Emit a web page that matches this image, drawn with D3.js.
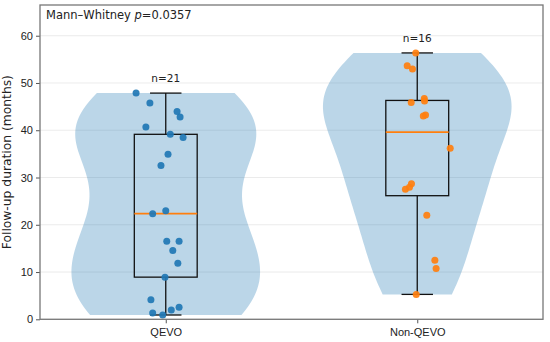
<!doctype html>
<html>
<head>
  <meta charset="utf-8" />
  <script src="https://cdn.jsdelivr.net/npm/d3@7"></script>
  <style>
  body{
    margin: 0;
    background: #fff;
    font-family: "DejaVu Sans", sans-serif;
  }
  .grid line{
    stroke: #e6e6e6;
    stroke-width: 0.8;
  }
  .axis text{
    font-size: 11px;
    fill: #222;
  }
  </style>
</head>
<body>
  <div id="chart"></div>

  <script>
  // groups and raw values
  var groups = ['QEVO', 'Non-QEVO'];
  var counts = ['n=21', 'n=16'];
  var qevoValues = [47.86, 45.75, 43.98, 42.8, 40.69, 39.14, 38.44, 34.92, 32.53, 22.97, 22.34,
                    16.5, 16.5, 14.55, 11.87, 8.92, 4.13, 2.53, 1.96, 1.33, 0.91];
  var qevoJitter = [-0.118, -0.063, 0.045, 0.057, -0.079, 0.018, 0.069, 0.009, -0.019, 0.0, -0.052,
                    0.004, 0.053, 0.028, 0.048, -0.003, -0.059, 0.053, 0.022, -0.052, -0.012];
  var nonValues = [56.36, 53.62, 52.98, 46.72, 46.17, 45.88, 43.22, 43.01, 36.18, 28.67, 27.96,
                   27.54, 21.99, 12.5, 10.75, 5.27];
  var nonJitter = [-0.006, -0.04, -0.019, 0.028, 0.029, -0.024, 0.033, 0.024, 0.131, -0.023, -0.031,
                   -0.047, 0.038, 0.07, 0.075, -0.004];
  var yTicks = [0, 10, 20, 30, 40, 50, 60];
  var pointColors = ['#1f77b4', '#ff7f0e'];
  var annotation = 'Mann\u2013Whitney ';
  var pValue = 'p=0.0357';

  var width = 550, height = 342;
  var margin = {left: 40, top: 5, right: 7, bottom: 22.7};

  var svg = d3.select('#chart').append('svg')
    .attr('width', width)
    .attr('height', height);

  var x = d3.scaleLinear().domain([0.5, 2.5]).range([margin.left, width - margin.right]);
  var y = d3.scaleLinear().domain([0, 66.5]).range([height - margin.bottom, margin.top]);

  // gridlines
  svg.append('g').attr('class', 'grid')
    .selectAll('line').data(yTicks).enter().append('line')
    .attr('x1', margin.left).attr('x2', width - margin.right)
    .attr('y1', function(d){ return y(d); }).attr('y2', function(d){ return y(d); });

  function quantile(arr, p){
    var s = arr.slice().sort(d3.ascending);
    return d3.quantile(s, p);
  }

  // gaussian kde, scott bandwidth (like matplotlib violinplot)
  function kde(values){
    var n = values.length;
    var bw = d3.deviation(values) * Math.pow(n, -0.2);
    var lo = d3.min(values), hi = d3.max(values);
    var pts = d3.range(100).map(function(i){ return lo + (hi - lo) * i / 99; });
    return pts.map(function(t){
      var s = d3.sum(values, function(v){ var z = (t - v) / bw; return Math.exp(-0.5 * z * z); });
      return [t, s / (n * bw * Math.sqrt(2 * Math.PI))];
    });
  }

  var series = [
    {name: groups[0], values: qevoValues, jitter: qevoJitter, pos: 1, color: pointColors[0], label: counts[0]},
    {name: groups[1], values: nonValues, jitter: nonJitter, pos: 2, color: pointColors[1], label: counts[1]}
  ];

  series.forEach(function(s){
    var dens = kde(s.values);
    var maxD = d3.max(dens, function(d){ return d[1]; });
    var area = d3.area()
      .curve(d3.curveLinear)
      .y(function(d){ return y(d[0]); })
      .x0(function(d){ return x(s.pos - 0.375 * d[1] / maxD); })
      .x1(function(d){ return x(s.pos + 0.375 * d[1] / maxD); });
    svg.append('path').datum(dens)
      .attr('d', area)
      .attr('fill', '#1f77b4')
      .attr('fill-opacity', 0.3)
      .attr('stroke', 'none');
  });

  series.forEach(function(s){
    var q1 = quantile(s.values, 0.25), med = quantile(s.values, 0.5), q3 = quantile(s.values, 0.75);
    var iqr = q3 - q1;
    var lowW = d3.min(s.values.filter(function(v){ return v >= q1 - 1.5 * iqr; }));
    var highW = d3.max(s.values.filter(function(v){ return v <= q3 + 1.5 * iqr; }));
    var g = svg.append('g').attr('stroke', '#111').attr('stroke-width', 1.3).attr('fill', 'none');
    g.append('rect')
      .attr('x', x(s.pos - 0.125)).attr('width', x(s.pos + 0.125) - x(s.pos - 0.125))
      .attr('y', y(q3)).attr('height', y(q1) - y(q3));
    g.append('line').attr('x1', x(s.pos)).attr('x2', x(s.pos)).attr('y1', y(q3)).attr('y2', y(highW));
    g.append('line').attr('x1', x(s.pos)).attr('x2', x(s.pos)).attr('y1', y(q1)).attr('y2', y(lowW));
    [lowW, highW].forEach(function(w){
      g.append('line').attr('x1', x(s.pos - 0.0625)).attr('x2', x(s.pos + 0.0625))
        .attr('y1', y(w)).attr('y2', y(w));
    });
    svg.append('line')
      .attr('x1', x(s.pos - 0.125)).attr('x2', x(s.pos + 0.125))
      .attr('y1', y(med)).attr('y2', y(med))
      .attr('stroke', '#ff7f0e').attr('stroke-width', 1.8);

    svg.append('g').selectAll('circle').data(s.values).enter().append('circle')
      .attr('cx', function(d, i){ return x(s.pos + s.jitter[i]); })
      .attr('cy', function(d){ return y(d); })
      .attr('r', 3.5)
      .attr('fill', s.color)
      .attr('fill-opacity', 0.92);

    svg.append('text')
      .attr('x', x(s.pos)).attr('y', y(highW) - 11)
      .attr('text-anchor', 'middle')
      .style('font-size', '10.5px').style('fill', '#222')
      .text(s.label);
  });

  // axes
  var yAxis = d3.axisLeft(y).tickValues(yTicks).tickSize(4).tickPadding(3);
  svg.append('g').attr('class', 'axis')
    .attr('transform', 'translate(' + margin.left + ',0)')
    .call(yAxis)
    .call(function(g){ g.select('.domain').remove(); g.selectAll('line').attr('stroke', '#555'); });

  var xAxis = d3.axisBottom(x).tickValues([1, 2]).tickFormat(function(d){ return groups[d - 1]; })
    .tickSize(4).tickPadding(4.5);
  svg.append('g').attr('class', 'axis')
    .attr('transform', 'translate(0,' + (height - margin.bottom) + ')')
    .call(xAxis)
    .call(function(g){ g.select('.domain').remove(); g.selectAll('line').attr('stroke', '#555'); });

  // frame
  svg.append('rect')
    .attr('x', margin.left).attr('y', margin.top)
    .attr('width', width - margin.right - margin.left)
    .attr('height', height - margin.bottom - margin.top)
    .attr('fill', 'none').attr('stroke', '#777').attr('stroke-width', 1.3);

  svg.append('text')
    .attr('transform', 'translate(11,' + ((margin.top + height - margin.bottom) / 2) + ') rotate(-90)')
    .attr('text-anchor', 'middle')
    .style('font-size', '12.3px').style('fill', '#222')
    .text('Follow-up duration (months)');

  var ann = svg.append('text')
    .attr('x', margin.left + 6).attr('y', margin.top + 14)
    .style('font-size', '11.5px').style('fill', '#222');
  ann.append('tspan').text(annotation);
  ann.append('tspan').style('font-style', 'italic').text(pValue.slice(0, 1));
  ann.append('tspan').text(pValue.slice(1));
  </script>
</body>
</html>
